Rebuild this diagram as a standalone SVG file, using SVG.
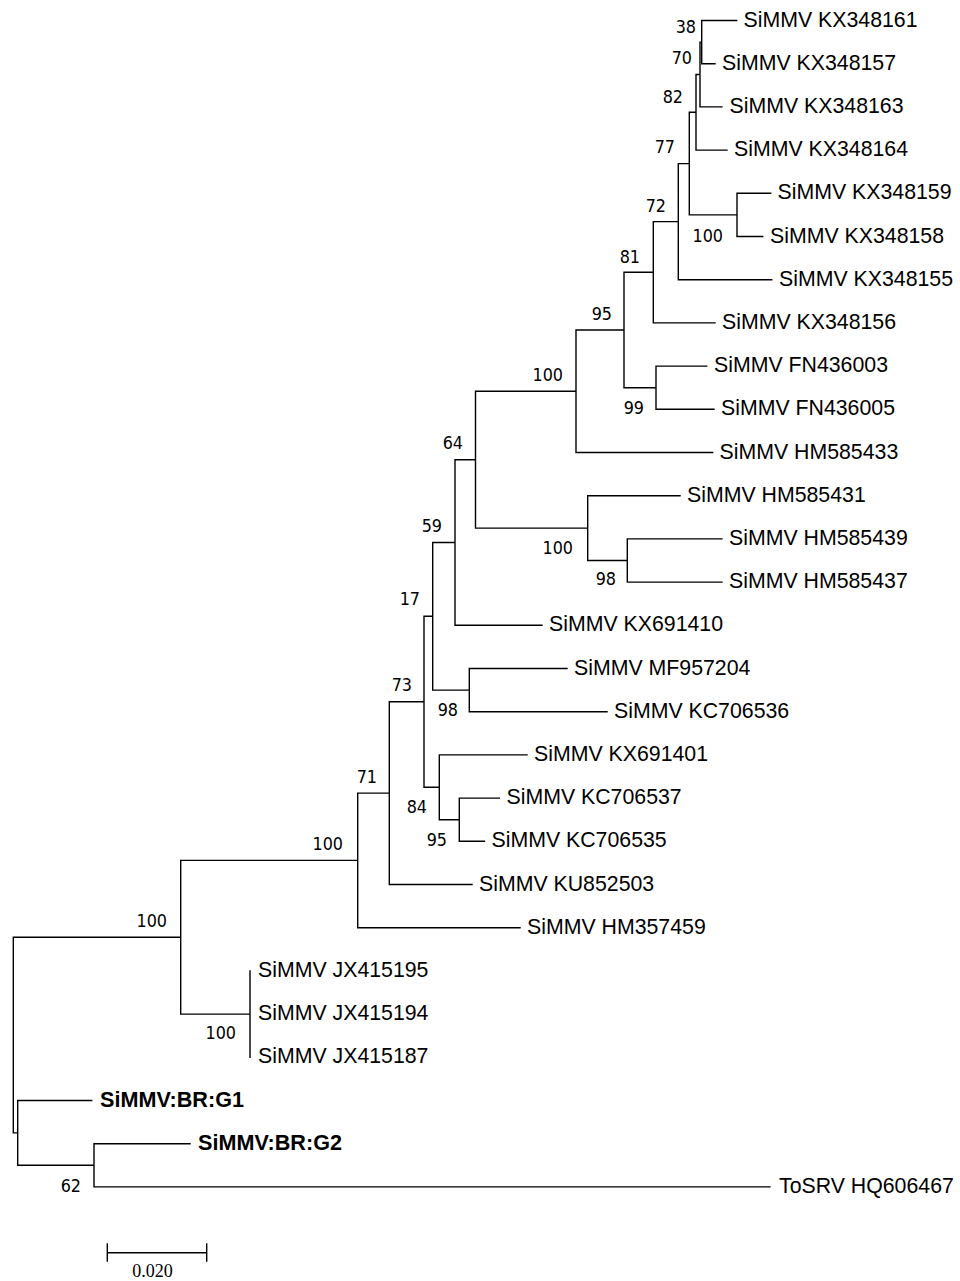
<svg xmlns="http://www.w3.org/2000/svg" width="960" height="1281" viewBox="0 0 960 1281">
<style>
.e{fill:none;stroke:#000;stroke-width:1.4;stroke-linecap:square}
.t{font-family:"Liberation Sans",Arial,sans-serif;font-size:21.3px;fill:#000}
.tb{font-family:"Liberation Sans",Arial,sans-serif;font-size:21.6px;font-weight:bold;fill:#000}
.b{font-family:"DejaVu Sans",Tahoma,sans-serif;font-stretch:condensed;font-size:17.8px;fill:#000;text-anchor:end}
.s{font-family:"Liberation Serif","Times New Roman",serif;font-size:18px;fill:#000;text-anchor:middle}
</style>
<rect width="960" height="1281" fill="#fff"/>
<g id="connectors">
<path class="e" d="M13.3,937.25V1132.9 M13.3,937.25H180.7 M13.3,1132.9H17.7
M180.7,860.4V1014.1 M180.7,860.4H357.7 M180.7,1014.1H250
M250,970.9V1057.3
M357.7,793.15V927.7 M357.7,793.15H389.3 M357.7,927.7H520
M389.3,701.8V884.5 M389.3,701.8H424 M389.3,884.5H472
M424,616.3V787.3 M424,616.3H432.7 M424,787.3H439.3
M432.7,542.5V690.1 M432.7,542.5H455 M432.7,690.1H469.3
M455,459.7V625.3 M455,459.7H475.5 M455,625.3H542
M475.5,391.25V528.1 M475.5,391.25H576 M475.5,528.1H587.7
M576,330V452.5 M576,330H624 M576,452.5H712.7
M624,272.3V387.7 M624,272.3H653.3 M624,387.7H656
M653.3,221.65V322.9 M653.3,221.65H678.3 M653.3,322.9H715
M678.3,163.6V279.7 M678.3,163.6H689.3 M678.3,279.7H771.7
M689.3,112.3V214.9 M689.3,112.3H696 M689.3,214.9H737
M696,74.5V150.1 M696,74.5H700 M696,150.1H727
M700,42.1V106.9 M700,42.1H701.7 M700,106.9H722
M701.7,20.5V63.7 M701.7,20.5H736.7 M701.7,63.7H715
M737,193.3V236.5 M737,193.3H770.7 M737,236.5H762.7
M656,366.1V409.3 M656,366.1H706.7 M656,409.3H714
M587.7,495.7V560.5 M587.7,495.7H680 M587.7,560.5H627.3
M627.3,538.9V582.1 M627.3,538.9H722 M627.3,582.1H722
M469.3,668.5V711.7 M469.3,668.5H567 M469.3,711.7H607
M439.3,754.9V819.7 M439.3,754.9H527 M439.3,819.7H459.3
M459.3,798.1V841.3 M459.3,798.1H499.3 M459.3,841.3H484.5
M17.7,1100.5V1165.3 M17.7,1100.5H91.7 M17.7,1165.3H94
M94,1143.7V1186.9 M94,1143.7H190 M94,1186.9H770"/>
</g>
<g id="leaf-KX348161"><text class="t" x="743.5" y="26.5">SiMMV KX348161</text></g>
<g id="leaf-KX348157"><text class="t" x="722" y="69.7">SiMMV KX348157</text></g>
<g id="leaf-KX348163"><text class="t" x="729.5" y="112.9">SiMMV KX348163</text></g>
<g id="leaf-KX348164"><text class="t" x="734" y="156.1">SiMMV KX348164</text></g>
<g id="leaf-KX348159"><text class="t" x="777.5" y="199.3">SiMMV KX348159</text></g>
<g id="leaf-KX348158"><text class="t" x="770" y="242.5">SiMMV KX348158</text></g>
<g id="leaf-KX348155"><text class="t" x="779" y="285.7">SiMMV KX348155</text></g>
<g id="leaf-KX348156"><text class="t" x="722" y="328.9">SiMMV KX348156</text></g>
<g id="leaf-FN436003"><text class="t" x="714" y="372.1">SiMMV FN436003</text></g>
<g id="leaf-FN436005"><text class="t" x="721" y="415.3">SiMMV FN436005</text></g>
<g id="leaf-HM585433"><text class="t" x="719.5" y="458.5">SiMMV HM585433</text></g>
<g id="leaf-HM585431"><text class="t" x="687" y="501.7">SiMMV HM585431</text></g>
<g id="leaf-HM585439"><text class="t" x="729" y="544.9">SiMMV HM585439</text></g>
<g id="leaf-HM585437"><text class="t" x="729" y="588.1">SiMMV HM585437</text></g>
<g id="leaf-KX691410"><text class="t" x="549" y="631.3">SiMMV KX691410</text></g>
<g id="leaf-MF957204"><text class="t" x="574" y="674.5">SiMMV MF957204</text></g>
<g id="leaf-KC706536"><text class="t" x="614" y="717.7">SiMMV KC706536</text></g>
<g id="leaf-KX691401"><text class="t" x="534" y="760.9">SiMMV KX691401</text></g>
<g id="leaf-KC706537"><text class="t" x="506.5" y="804.1">SiMMV KC706537</text></g>
<g id="leaf-KC706535"><text class="t" x="491.5" y="847.3">SiMMV KC706535</text></g>
<g id="leaf-KU852503"><text class="t" x="479" y="890.5">SiMMV KU852503</text></g>
<g id="leaf-HM357459"><text class="t" x="527" y="933.7">SiMMV HM357459</text></g>
<g id="leaf-JX415195"><text class="t" x="258" y="976.9">SiMMV JX415195</text></g>
<g id="leaf-JX415194"><text class="t" x="258" y="1020.1">SiMMV JX415194</text></g>
<g id="leaf-JX415187"><text class="t" x="258" y="1063.3">SiMMV JX415187</text></g>
<g id="leaf-BRG1"><text class="tb" x="100" y="1106.5">SiMMV:BR:G1</text></g>
<g id="leaf-BRG2"><text class="tb" x="198" y="1149.7">SiMMV:BR:G2</text></g>
<g id="leaf-ToSRV"><text class="t" x="779" y="1192.9">ToSRV HQ606467</text></g>
<g id="node-S1"><text class="b" x="696" y="32.5">38</text></g>
<g id="node-S2"><text class="b" x="692" y="64">70</text></g>
<g id="node-S3"><text class="b" x="683" y="102.5">82</text></g>
<g id="node-S4"><text class="b" x="675" y="153">77</text></g>
<g id="node-S5"><text class="b" x="723" y="241.5">100</text></g>
<g id="node-R"><text class="b" x="666" y="211.5">72</text></g>
<g id="node-P"><text class="b" x="640" y="262.5">81</text></g>
<g id="node-O"><text class="b" x="612" y="319.5">95</text></g>
<g id="node-Q"><text class="b" x="644" y="413.5">99</text></g>
<g id="node-M"><text class="b" x="563" y="380.5">100</text></g>
<g id="node-L"><text class="b" x="463" y="448.5">64</text></g>
<g id="node-N"><text class="b" x="573" y="553.5">100</text></g>
<g id="node-T"><text class="b" x="616" y="585">98</text></g>
<g id="node-H"><text class="b" x="442" y="531.5">59</text></g>
<g id="node-G"><text class="b" x="420" y="604.5">17</text></g>
<g id="node-F"><text class="b" x="412" y="690.5">73</text></g>
<g id="node-I"><text class="b" x="458" y="715.5">98</text></g>
<g id="node-E"><text class="b" x="377" y="782.5">71</text></g>
<g id="node-J"><text class="b" x="427" y="812.5">84</text></g>
<g id="node-K"><text class="b" x="447" y="845.5">95</text></g>
<g id="node-D"><text class="b" x="343" y="849.5">100</text></g>
<g id="node-A"><text class="b" x="167" y="926.5">100</text></g>
<g id="node-JX"><text class="b" x="236" y="1038.5">100</text></g>
<g id="node-C"><text class="b" x="81" y="1191.5">62</text></g>
<g id="scale-bar">
<path class="e" d="M107.3,1252.7H206.7 M107.3,1244V1261 M206.7,1244V1261"/>
<text class="s" x="152.5" y="1277">0.020</text>
</g>
</svg>
